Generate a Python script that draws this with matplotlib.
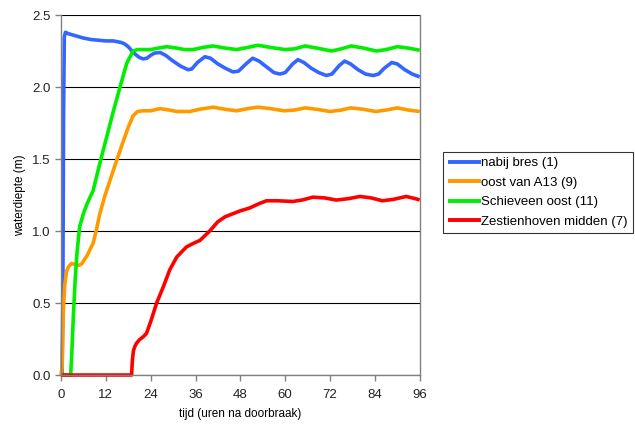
import matplotlib.pyplot as plt

plt.rcParams['font.family'] = ['Liberation Sans', 'DejaVu Sans']

# tijd (uren) en waterdiepte (m) per meetpunt
t_bres = [0, 0.3, 0.5, 0.7, 0.9, 1.2, 2, 4, 6, 8, 10, 12, 14, 16, 17, 18, 19, 20, 21, 22,
          23, 24, 25, 26.5, 28, 30, 32, 34, 35, 36.5, 38.5, 40, 42, 44, 46, 47.5, 49.5,
          51.3, 53, 55, 57, 58.6, 60, 62, 63.4, 65, 67, 69, 71, 72.5, 74.5, 75.9, 77.5,
          79.5, 81.5, 83.5, 85, 86.5, 88.5, 90, 92, 94, 96]
h_bres = [0, 0, 0.5, 1.8, 2.35, 2.38, 2.37, 2.355, 2.34, 2.33, 2.325, 2.32, 2.32, 2.31,
          2.3, 2.28, 2.25, 2.225, 2.205, 2.195, 2.2, 2.22, 2.235, 2.24, 2.22, 2.18, 2.145,
          2.12, 2.125, 2.17, 2.21, 2.2, 2.16, 2.13, 2.105, 2.11, 2.16, 2.2, 2.18, 2.14,
          2.1, 2.09, 2.1, 2.16, 2.19, 2.17, 2.13, 2.1, 2.08, 2.09, 2.15, 2.18, 2.16, 2.12,
          2.09, 2.08, 2.09, 2.13, 2.17, 2.16, 2.12, 2.09, 2.07]

t_a13 = [0, 0.3, 0.6, 1.0, 1.5, 2.0, 2.8, 3.5, 4.5, 5.5, 7, 8.6, 9.5, 10.4, 11.7, 13.1,
         14.9, 16.5, 18, 19.3, 20.5, 22, 24, 26.5, 29, 31, 34.5, 37, 40.7, 44, 47, 50,
         52.7, 56, 59.6, 62.5, 65.3, 68.5, 72, 75, 77.5, 81, 84.2, 87, 90, 93, 96]
h_a13 = [0, 0.05, 0.43, 0.62, 0.72, 0.75, 0.775, 0.77, 0.76, 0.77, 0.83, 0.915, 1.01,
         1.12, 1.24, 1.35, 1.49, 1.61, 1.72, 1.80, 1.83, 1.835, 1.835, 1.85, 1.84, 1.83,
         1.83, 1.845, 1.86, 1.845, 1.835, 1.85, 1.86, 1.85, 1.835, 1.84, 1.855, 1.845,
         1.83, 1.84, 1.855, 1.845, 1.83, 1.84, 1.855, 1.84, 1.83]

t_schie = [0, 2.6, 2.9, 3.3, 3.8, 4.3, 5.0, 6.0, 7.0, 8.6, 10.4, 12, 14, 15.8, 17.6,
           19.3, 20.5, 22, 24, 26, 28.3, 31, 33, 35.4, 38, 40.7, 44, 47, 50, 52.7, 56,
           60, 62.5, 65.3, 68.5, 72.4, 75, 77.7, 81, 84.4, 87, 90, 93, 96]
h_schie = [0, 0, 0.15, 0.4, 0.66, 0.85, 1.03, 1.12, 1.19, 1.28, 1.47, 1.63, 1.83, 2.0,
           2.165, 2.25, 2.26, 2.26, 2.26, 2.27, 2.28, 2.27, 2.26, 2.26, 2.275, 2.285,
           2.27, 2.26, 2.275, 2.29, 2.275, 2.26, 2.265, 2.285, 2.27, 2.25, 2.265, 2.285,
           2.27, 2.25, 2.26, 2.28, 2.27, 2.255]

t_zest = [0, 18.9, 19.1, 19.4, 19.8, 20.2, 21, 22, 22.9, 24, 25.6, 27.5, 29.1, 31, 33.6,
          35.5, 37.2, 39.8, 42, 44, 46, 48, 50.5, 53, 55, 58, 62, 64.5, 67.4, 70.5,
          73.7, 77, 80, 83, 86, 89, 92.4, 95.5, 96]
h_zest = [0, 0, 0.1, 0.17, 0.2, 0.22, 0.245, 0.265, 0.29, 0.37, 0.5, 0.62, 0.73, 0.82,
          0.89, 0.915, 0.935, 1.0, 1.065, 1.1, 1.12, 1.14, 1.16, 1.19, 1.21, 1.21, 1.205,
          1.215, 1.235, 1.23, 1.215, 1.225, 1.24, 1.23, 1.21, 1.22, 1.24, 1.22, 1.215]

series = [
    ("nabij bres (1)", t_bres, h_bres, "#3366ff"),
    ("oost van A13 (9)", t_a13, h_a13, "#ff9900"),
    ("Schieveen oost (11)", t_schie, h_schie, "#00ee00"),
    ("Zestienhoven midden (7)", t_zest, h_zest, "#ff0000"),
]

x_ticks = [0, 12, 24, 36, 48, 60, 72, 84, 96]
y_ticks = [0.0, 0.5, 1.0, 1.5, 2.0, 2.5]

fig = plt.figure(figsize=(6.35, 4.25), dpi=100)
ax = fig.add_axes([0.096, 0.1176, 0.565, 0.8471])

# red drawn last so it lies over the other lines at zero
handles = []
for label, t, h, color in series:
    ln, = ax.plot(t, h, color=color, lw=2.6, label=label, clip_on=False,
                  solid_capstyle='butt')
    handles.append(ln)

ax.set_xlim(0, 96)
ax.set_ylim(0, 2.5)
ax.set_xticks(x_ticks)
ax.set_yticks(y_ticks)
ax.set_yticklabels([f"{v:.1f}" for v in y_ticks])
ax.yaxis.grid(True, color='black', lw=0.8)
ax.set_axisbelow(True)
for side in ['left', 'bottom', 'right']:
    ax.spines[side].set_color('#808080')
    ax.spines[side].set_linewidth(1.0)
ax.spines['top'].set_visible(False)
ax.tick_params(axis='both', colors='#808080', labelcolor='#222222', labelsize=9.5,
               length=4, width=1.0, direction='out')
ax.tick_params(axis='x', pad=6)

ax.set_xlabel("tijd (uren na doorbraak)", fontsize=8.5, labelpad=5)
ax.set_ylabel("waterdiepte (m)", fontsize=8.5, labelpad=4)

leg = fig.legend(handles=handles, loc='upper left', bbox_to_anchor=(0.697, 0.643),
                 fontsize=9.5, frameon=True, fancybox=False, handlelength=2.5,
                 handletextpad=0.0, labelspacing=0.55, borderpad=0.4,
                 borderaxespad=0.0)
leg.get_frame().set_edgecolor('black')
leg.get_frame().set_linewidth(0.8)
for ln in leg.get_lines():
    ln.set_linewidth(2.8)

fig.savefig("out.png", dpi=100)
